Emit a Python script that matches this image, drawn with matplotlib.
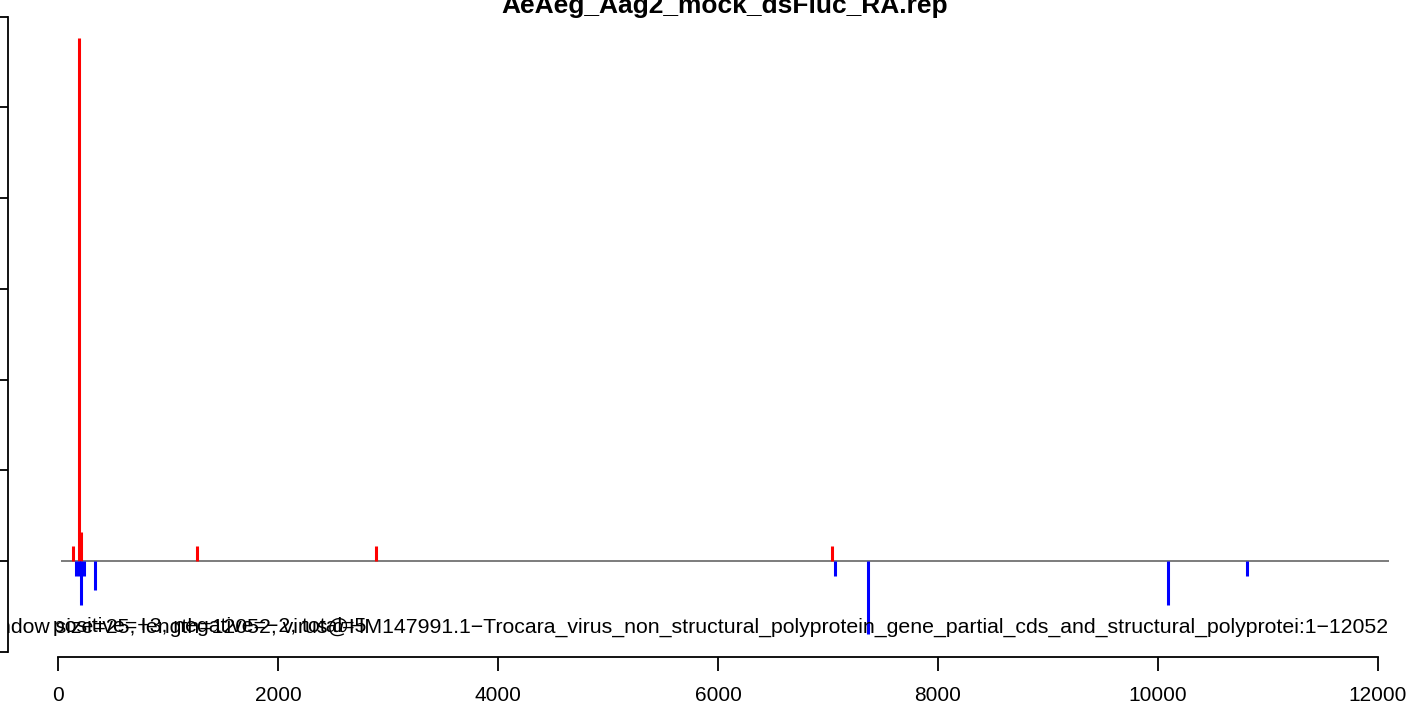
import numpy as np
import matplotlib
matplotlib.use("Agg")
import matplotlib.pyplot as plt
from matplotlib.transforms import Bbox, TransformedBbox

plt.rcParams['font.family'] = ['Liberation Sans', 'DejaVu Sans']

# window centres (bp) and normalised read counts, window size = 25
pos_x = [137.5, 187.5, 212.5, 1262.5, 2887.5, 7037.5]
pos_y = [4, 144, 8, 4, 4, 4]
neg_x = [162.5, 187.5, 212.5, 237.5, 337.5, 7062.5, 7362.5, 10087.5, 10812.5]
neg_y = [-4, -4, -12, -4, -8, -4, -20, -12, -4]

title = "AeAeg_Aag2_mock_dsFluc_RA.rep"
info_main = ("window size=25, length=12052, virus@HM147991.1\u2212Trocara_virus_non_structural_"
             "polyprotein_gene_partial_cds_and_structural_polyprotei:1\u221212052")
info_counts = "positive=+3, negative=\u22122, total=5"
x_ticks = [0, 2000, 4000, 6000, 8000, 10000, 12000]
y_ticks = [-25, 0, 25, 50, 75, 100, 125, 150]

W, H = 1424, 709
fig = plt.figure(figsize=(W / 100, H / 100), dpi=100)
ax = fig.add_axes([0, 0, 1, 1])

# pixel mapping of the original plot: x 0 -> 58px, 12000 -> 1378px ; y 0 -> 561px, 150 -> 17px
sx = 1320 / 12000
sy = 635 / 175
ax.set_xlim(-58 / sx, (W - 58) / sx)
ax.set_ylim((561 - H) / sy, 561 / sy)
ax.patch.set_alpha(0)

ax.hlines(0, 25, 12100, color='#666666', lw=1.2)
ax.vlines(pos_x, 0, pos_y, color='#ff0000', lw=2.2, capstyle='butt')
ax.vlines(neg_x, 0, neg_y, color='#0000ff', lw=2.2, capstyle='butt')

for s in ['top', 'right']:
    ax.spines[s].set_visible(False)
ax.spines['left'].set_position(('data', (8 - 58) / sx))
ax.spines['left'].set_bounds(-25, 150)
ax.spines['bottom'].set_position(('data', (561 - 657) / sy))
ax.spines['bottom'].set_bounds(0, 12000)
for s in ['left', 'bottom']:
    ax.spines[s].set_linewidth(1.3)

ax.set_xticks(x_ticks)
ax.set_xticklabels([str(t) for t in x_ticks])
ax.set_yticks(y_ticks)
ax.tick_params(axis='x', direction='out', length=10, width=1.3, labelsize=15, pad=11)
ax.tick_params(axis='y', direction='out', length=10, width=1.3, labelleft=False)

# overlapping annotation texts, as in the original figure (cut at the left axis)
clip = TransformedBbox(Bbox([[8 / W, 0], [1, 1]]), fig.transFigure)
t1 = ax.text(1388 / W, 1 - 627 / H, info_main, transform=fig.transFigure,
             ha='right', va='center', fontsize=15.35)
t2 = ax.text(53 / W, 1 - 627 / H, info_counts, transform=fig.transFigure,
             ha='left', va='center', fontsize=15.35)
for t in (t1, t2):
    t.set_clip_box(clip)
    t.set_clip_on(True)

fig.text(725 / W, 1 - 13 / H, title, ha='center', va='baseline',
         fontsize=19, fontweight='bold')

fig.savefig("out.png", dpi=100)
